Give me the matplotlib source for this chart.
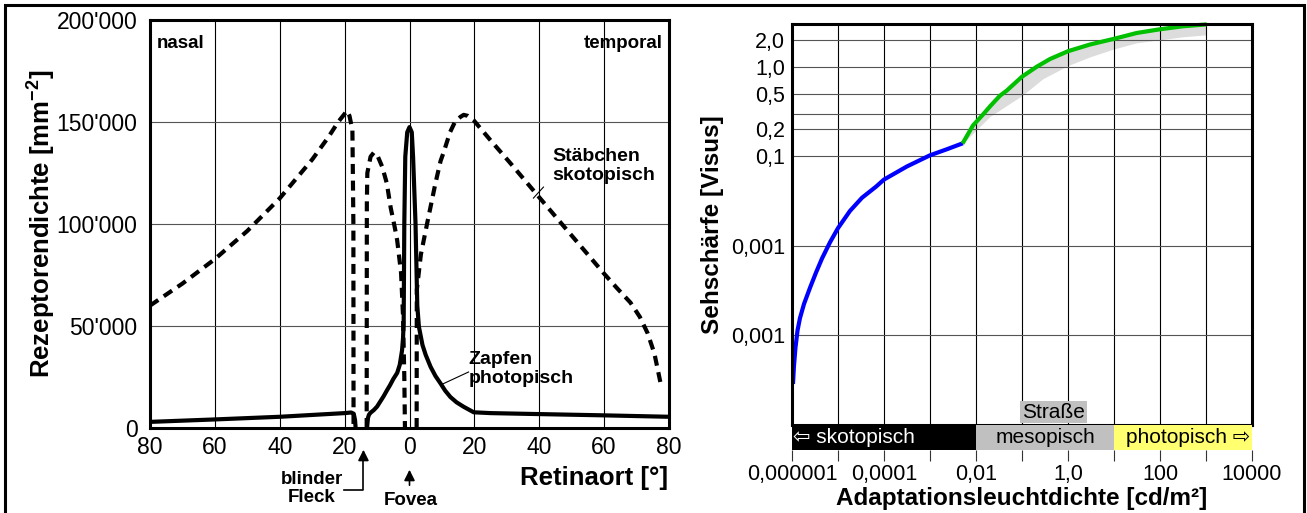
import numpy as np
import matplotlib.pyplot as plt
from matplotlib.patches import Rectangle

plt.rcParams['font.family'] = ['Liberation Sans', 'DejaVu Sans']
plt.rcParams['mathtext.fontset'] = 'custom'
plt.rcParams['mathtext.rm'] = 'Liberation Sans'
plt.rcParams['mathtext.bf'] = 'Liberation Sans:bold'

# ==========================================
# LEFT: receptor density vs retinal position
# ==========================================

nan = np.nan
rod_x = [-80, -70, -60, -50, -40, -30, -25, -22, -20, -19.3, -18.5, -17.6, -17.3, -17.25, nan,
         -13.2, -13.15, -13.0, -12, -11, -10, -8.4, -7, -5.8, -4.5, -3.8, -2.6, -2.0, -1.6, -1.4, nan,
         2.2, 2.25, 3.5, 5.4, 8, 9.6, 10.5, 12.5, 14, 15.7, 16.7, 18, 19.7, 25, 31, 39.5, 47.5,
         55.8, 59.8, 64, 68.1, 71, 73.4, 75.5, 77.4]
rod_y = [60000, 70800, 82800, 96600, 112600, 131600, 142600, 150000, 154000, 155500, 153000, 146000,
         100000, 0, nan,
         0, 110000, 125000, 133000, 135000, 134000, 128000, 120000, 108000, 98000, 92000, 76000,
         55000, 25000, 0, nan,
         0, 67600, 85000, 100000, 120000, 131000, 135000, 145000, 150000, 152500, 153500, 153000,
         151000, 141000, 130000, 114000, 99000, 83500, 76000, 68500, 61500, 54500, 46500,
         36500, 22000]

cone_x = [-80, -60, -40, -20, -18, -17.2, -16.8, -16.6, nan,
          -13.1, -12.8, -12.5, -12, -11, -10, -9, -8, -6.9, -6, -5, -3.8, -3, -2.6, -2.3, -2,
          -1.8, -1.6, -1.3, -0.7, 0, 0.7, 1.1, 1.85, 2.4, 2.9, 4, 5, 6.5, 8, 9.5, 11, 12.6, 14.5,
          16.7, 19.8, 25, 37.3, 60, 80]
cone_y = [3000, 4200, 5500, 7300, 7600, 7000, 4000, 0, nan,
          0, 5000, 6500, 7500, 8800, 10500, 13000, 15500, 18600, 21000, 24000, 27000, 31000,
          35000, 38000, 44000, 51500, 100500, 133000, 145000, 147500, 145000, 133000, 100500,
          60000, 49600, 40700, 35800, 30000, 25500, 22000, 18300, 15200, 12600, 10400, 7700,
          7300, 6900, 6200, 5500]

left_xticks = [-80, -60, -40, -20, 0, 20, 40, 60, 80]
left_xlabels = ["80", "60", "40", "20", "0", "20", "40", "60", "80"]
left_yticks = [0, 50000, 100000, 150000, 200000]
left_ylabels = ["0", "50'000", "100'000", "150'000", "200'000"]

# ==========================================
# RIGHT: visual acuity vs adaptation luminance
# ==========================================

blue_x = [1.05e-6, 1.104e-6, 1.19e-6, 1.32e-6, 1.49e-6, 1.82e-6, 2.46e-6, 3.32e-6, 4.49e-6,
          6.70e-6, 1e-5, 1.82e-5, 3.32e-5, 6.70e-5, 1e-4, 3.16e-4, 1e-3, 2.34e-3, 5.2e-3]
blue_y = [2.87e-4, 4.58e-4, 7.31e-4, 1.14e-3, 1.56e-3, 2.24e-3, 3.40e-3, 5.02e-3, 7.23e-3,
          0.01096, 0.01578, 0.02455, 0.03443, 0.0458, 0.0550, 0.0771, 0.1026, 0.12, 0.14]

green_x = [5.1e-3, 8.6e-3, 0.0142, 0.0201, 0.0333, 0.0465, 0.1, 0.209, 0.407, 1, 3.0, 10,
           31, 100, 316, 1035]
green_y = [0.139, 0.221, 0.293, 0.36, 0.476, 0.541, 0.774, 1.0, 1.22, 1.49, 1.77, 2.05,
           2.38, 2.62, 2.83, 2.97]

band_x = [5.2e-3, 9.5e-3, 0.0201, 0.0465, 0.1, 0.285, 1, 3, 10, 31, 100, 316, 1000]
band_lo = [0.14, 0.19, 0.278, 0.369, 0.476, 0.735, 1.03, 1.29, 1.58, 1.85, 2.0, 2.16, 2.27]
band_hi = [0.14, 0.233, 0.36, 0.541, 0.774, 1.10, 1.49, 1.77, 2.05, 2.38, 2.62, 2.83, 2.97]

right_yticks = [2, 1, 0.5, 0.3, 0.2, 0.1, 0.01, 0.001]
right_ylabels = ["2,0", "1,0", "0,5", "", "0,2", "0,1", "0,001", "0,001"]
decades = [10.0 ** k for k in range(-6, 5)]
decade_labels = ["0,000001", "", "0,0001", "", "0,01", "", "1,0", "", "100", "", "10000"]

zones = [(1e-6, 1e-2, "black"), (1e-2, 1e1, "#c0c0c0"), (1e1, 1e4, "#ffff70")]

# ==========================================
# PLOT
# ==========================================

W, H = 1307, 513
fig = plt.figure(figsize=(W / 100, H / 100), dpi=100)

def px_axes(x0, y0, x1, y1):
    return fig.add_axes([x0 / W, 1 - y1 / H, (x1 - x0) / W, (y1 - y0) / H])

ax = px_axes(150, 20, 669, 428)
ax.plot(rod_x, rod_y, color="black", lw=3, dashes=(2.4, 1.6))
ax.plot(cone_x, cone_y, color="black", lw=3)
ax.set_xlim(-80, 80)
ax.set_ylim(0, 200000)
ax.set_xticks(left_xticks, left_xlabels)
ax.set_yticks(left_yticks, left_ylabels)
ax.tick_params(axis="both", length=0, labelsize=16.5)
ax.tick_params(axis="y", pad=9)
ax.tick_params(axis="x", pad=6)
ax.grid(True, axis="x", color="black", lw=0.8)
ax.grid(True, axis="y", color="#555555", lw=0.8)
for s in ax.spines.values():
    s.set_linewidth(2.2)

ax.text(-77.8, 188700, "nasal", fontsize=13.5, fontweight="bold", ha="left", va="center")
ax.text(78, 188700, "temporal", fontsize=13.5, fontweight="bold", ha="right", va="center")
ax.text(44.1, 128400, "Stäbchen\nskotopisch", fontsize=14, fontweight="bold",
        ha="left", va="center", linespacing=1.1)
ax.plot([41.3, 38.2], [118100, 112700], color="black", lw=0.8)
ax.text(18.2, 28900, "Zapfen\nphotopisch", fontsize=14, fontweight="bold",
        ha="left", va="center", linespacing=1.1)
ax.plot([18.2, 9.6], [27450, 21100], color="black", lw=0.8)

ax.text(-30.2, -29700, "blinder\nFleck", fontsize=13.5, fontweight="bold",
        ha="center", va="center", linespacing=1.05)
ax.plot([-20.3, -14.2, -14.2], [-30400, -30400, -14000], color="black", lw=1.2, clip_on=False)
ax.annotate("", xy=(-14.2, -9300), xytext=(-14.2, -17000), annotation_clip=False,
            arrowprops=dict(arrowstyle="-|>", color="black", lw=1.2, mutation_scale=16))
ax.text(0.3, -35300, "Fovea", fontsize=13.5, fontweight="bold", ha="center", va="center")
ax.annotate("", xy=(0, -19100), xytext=(0, -29400), annotation_clip=False,
            arrowprops=dict(arrowstyle="-|>", color="black", lw=1.2, mutation_scale=16))
ax.text(79.8, -24500, "Retinaort [°]", fontsize=18.5, fontweight="bold", ha="right", va="center")
fig.text(41 / W, 1 - 224 / H, r"Rezeptorendichte [mm$^{\mathbf{-2}}$]", fontsize=18.5,
         fontweight="bold", rotation=90, ha="center", va="center")

# right panel
ax2 = px_axes(792, 24, 1252, 425)
ax2.set_xscale("log")
ax2.set_yscale("log")
ax2.fill_between(band_x, band_lo, band_hi, color="#dcdcdc", lw=0)
ax2.plot(blue_x, blue_y, color="#0000ff", lw=3, solid_capstyle="butt")
ax2.plot(green_x, green_y, color="#00c000", lw=3, clip_on=False, solid_capstyle="butt")
ax2.set_xlim(1e-6, 1e4)
ax2.set_ylim(1e-4, 3.0)
ax2.set_xticks(decades, [""] * len(decades))
ax2.set_yticks(right_yticks, right_ylabels)
ax2.minorticks_off()
ax2.tick_params(axis="both", length=0, labelsize=15.5)
ax2.tick_params(axis="y", pad=5)
ax2.grid(True, axis="x", color="black", lw=0.8)
ax2.grid(True, axis="y", color="#555555", lw=0.8)
for s in ax2.spines.values():
    s.set_linewidth(2.2)
ax2.text(0.484, 0.032, "Straße", transform=ax2.get_xaxis_transform(), fontsize=15,
         ha="center", va="center",
         bbox=dict(boxstyle="square,pad=0.08", facecolor="#c0c0c0", edgecolor="none"))

band = px_axes(792, 425, 1252, 450)
band.set_xscale("log")
band.set_xlim(1e-6, 1e4)
band.set_ylim(0, 1)
for x0, x1, c in zones:
    band.axvspan(x0, x1, color=c, lw=0)
band.set_yticks([])
band.set_xticks(decades, decade_labels)
band.minorticks_off()
band.tick_params(axis="x", length=8, width=0.8, color="#333333", pad=2, labelsize=15.5)
for s in band.spines.values():
    s.set_visible(False)
band.text(1.05e-6, 0.5, "⇦ skotopisch", color="white", fontsize=15, ha="left", va="center")
band.text(0.316, 0.5, "mesopisch", color="black", fontsize=15, ha="center", va="center")
band.text(9.0e3, 0.5, "photopisch ⇨", color="black", fontsize=15, ha="right", va="center")

fig.text(712 / W, 1 - 224.5 / H, "Sehschärfe [Visus]", fontsize=17.5, fontweight="bold",
         rotation=90, ha="center", va="center")
fig.text(1022 / W, 1 - 498 / H, "Adaptationsleuchtdichte [cd/m²]", fontsize=17.5,
         fontweight="bold", ha="center", va="center")

fig.patches.append(Rectangle((5 / W, -0.1), 1299 / W, 1.1 - 5 / H, transform=fig.transFigure,
                             fill=False, edgecolor="black", lw=2.2, clip_on=False))

fig.savefig("out.png", dpi=100)
